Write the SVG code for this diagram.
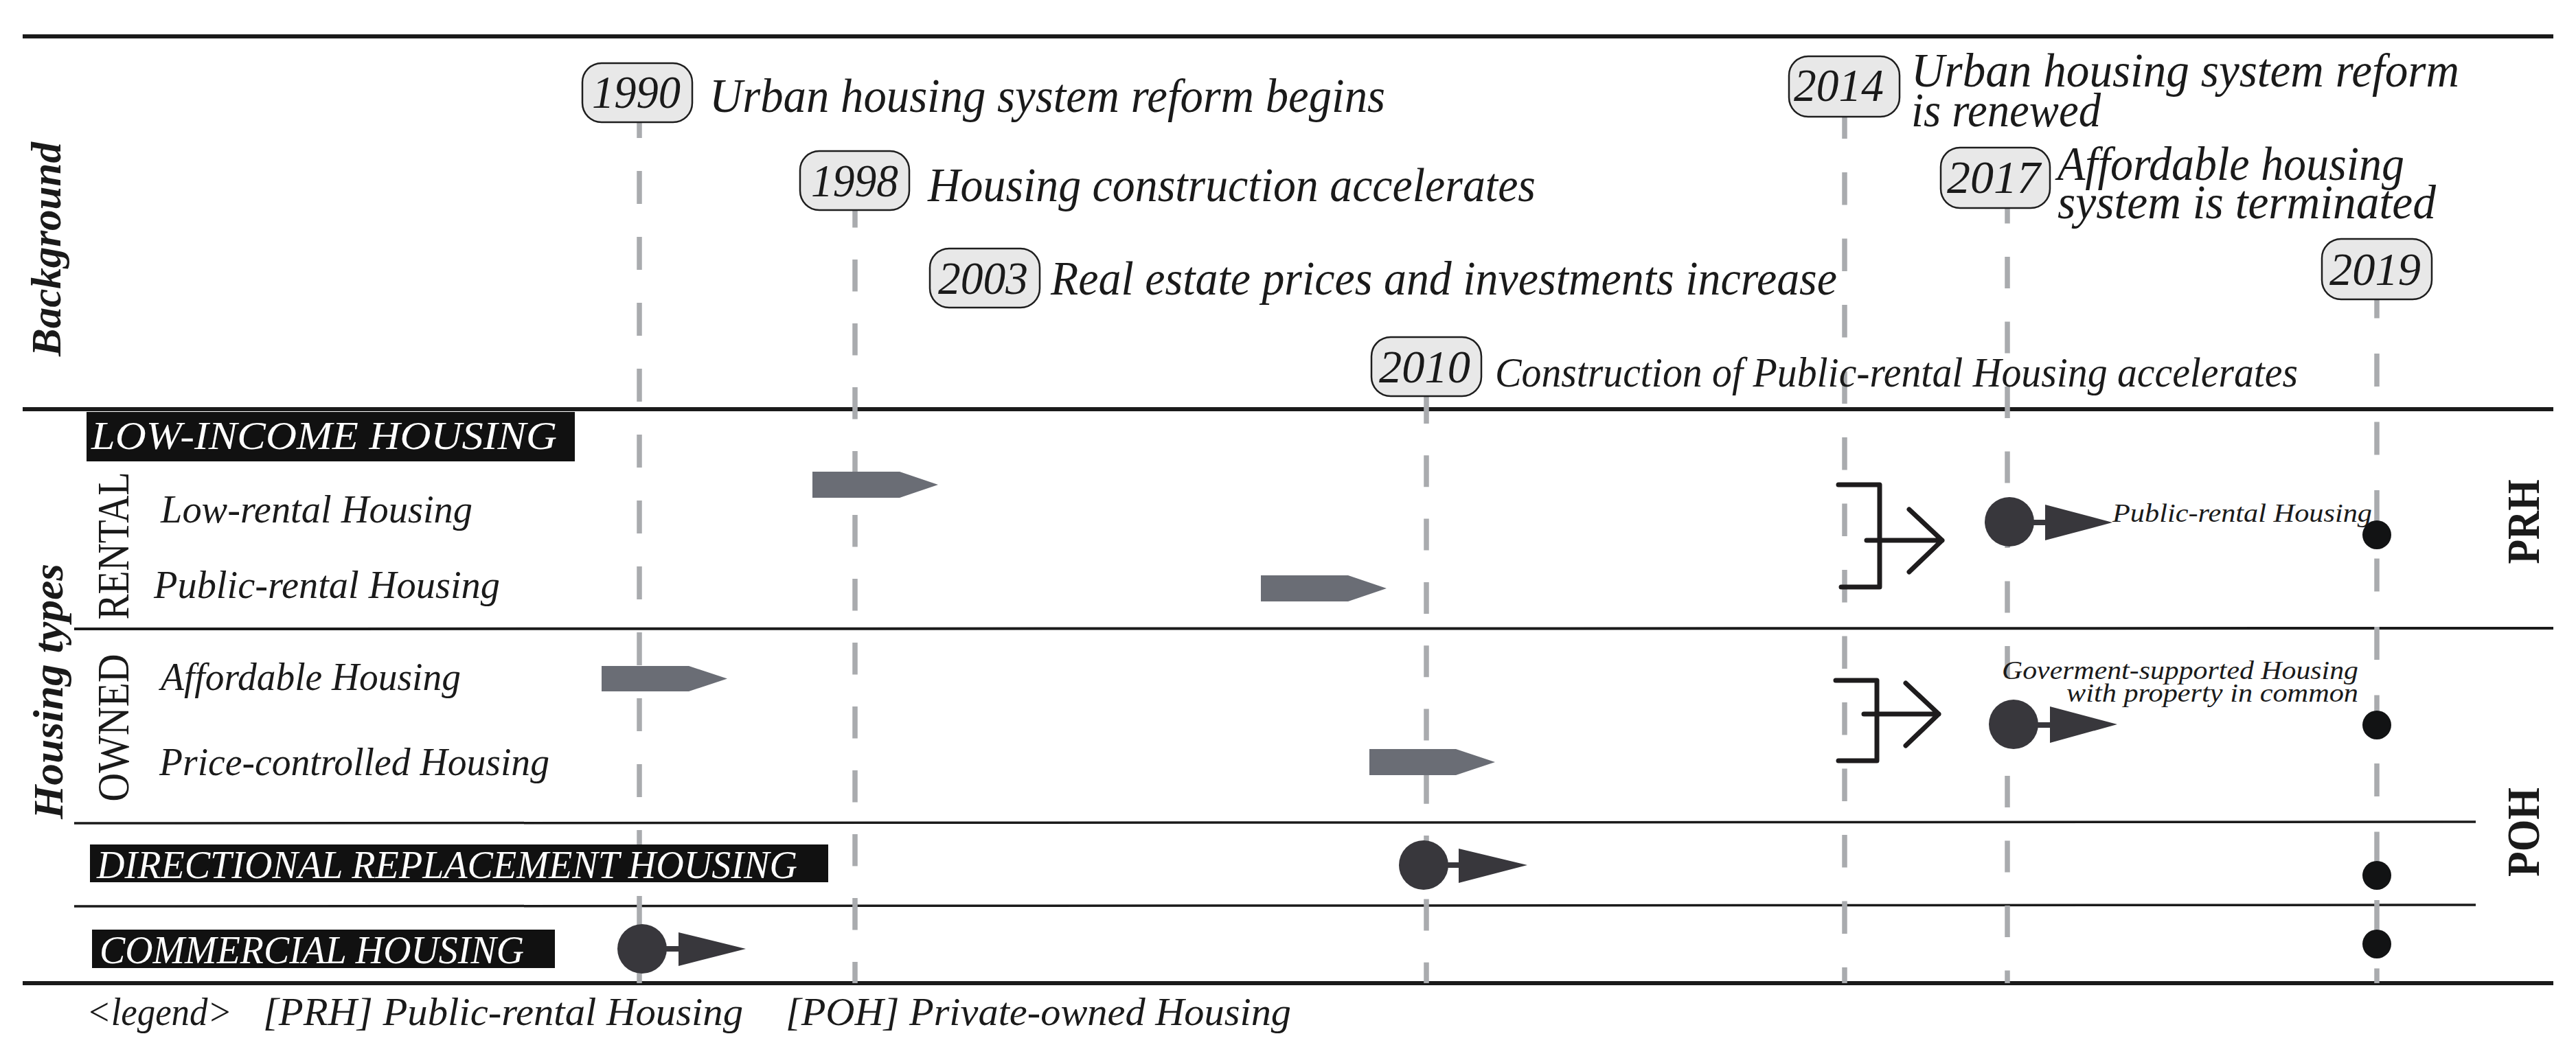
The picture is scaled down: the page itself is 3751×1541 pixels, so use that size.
<svg xmlns="http://www.w3.org/2000/svg" width="3751" height="1541" viewBox="0 0 3751 1541">
<style>
.t{font-family:"Liberation Serif",serif;font-style:italic;fill:#1a1a1a}
.w{fill:#ffffff}
.yr{fill:#e8e8e8;stroke:#1e1e1e;stroke-width:2.5}
.dash{stroke:#a9abae;stroke-width:7.5;fill:none}
.hl{stroke:#1a1a1a;fill:none}
.ga{fill:#6a6d75}
.dk{fill:#38373c}
.dot{fill:#121314}
.br{stroke:#1e1c1d;stroke-width:7;fill:none;stroke-linecap:round;stroke-linejoin:round}
.lab{fill:#111111}
.b{font-family:"Liberation Serif",serif;font-weight:bold;fill:#1a1a1a}
.up{font-family:"Liberation Serif",serif;fill:#1a1a1a}
</style>
<rect x="0" y="0" width="3751" height="1541" fill="#ffffff"/>

<g id="frame" class="hl">
<line x1="33" y1="53" x2="3718" y2="53" stroke-width="6"/>
<line x1="33" y1="596" x2="3718" y2="596" stroke-width="6"/>
<line x1="108" y1="916" x2="3718" y2="915" stroke-width="4"/>
<line x1="108" y1="1199" x2="3605" y2="1197" stroke-width="3.5"/>
<line x1="108" y1="1320" x2="3605" y2="1318" stroke-width="3.5"/>
<line x1="33" y1="1432" x2="3718" y2="1432" stroke-width="6"/>
</g>

<g id="connectors">
<line class="dash" x1="931" y1="153" x2="931" y2="1432" stroke-dasharray="48 48"/>
<line class="dash" x1="1245" y1="285" x2="1245" y2="1432" stroke-dasharray="46.5 46.5"/>
<line class="dash" x1="2077" y1="571" x2="2077" y2="1432" stroke-dasharray="46 46.3"/>
<line class="dash" x1="2686" y1="154.5" x2="2686" y2="1432" stroke-dasharray="47.5 49"/>
<line class="dash" x1="2923" y1="279.5" x2="2923" y2="1432" stroke-dasharray="46 48.5"/>
<line class="dash" x1="3461" y1="415.5" x2="3461" y2="1432" stroke-dasharray="48 51.5"/>
</g>

<g id="section-labels">
<text class="b" font-style="italic" font-size="62" transform="translate(88,363) rotate(-90)" text-anchor="middle" textLength="312" lengthAdjust="spacingAndGlyphs">Background</text>
<text class="b" font-style="italic" font-size="62" transform="translate(91,1007) rotate(-90)" text-anchor="middle" textLength="372" lengthAdjust="spacingAndGlyphs">Housing types</text>
<text class="up" font-size="66" transform="translate(187,795) rotate(-90)" text-anchor="middle" textLength="215" lengthAdjust="spacingAndGlyphs">RENTAL</text>
<text class="up" font-size="66" transform="translate(187,1060) rotate(-90)" text-anchor="middle" textLength="215" lengthAdjust="spacingAndGlyphs">OWNED</text>
<text class="b" font-size="67" transform="translate(3697,760) rotate(-90)" text-anchor="middle" textLength="123" lengthAdjust="spacingAndGlyphs">PRH</text>
<text class="b" font-size="67" transform="translate(3697,1212) rotate(-90)" text-anchor="middle" textLength="130" lengthAdjust="spacingAndGlyphs">POH</text>
</g>

<g id="event-1990">
<rect class="yr" x="848" y="92" width="160" height="86" rx="28"/>
<text class="t" font-size="68" x="862" y="157" textLength="129" lengthAdjust="spacingAndGlyphs">1990</text>
<text class="t" font-size="70" x="1033" y="163" textLength="984" lengthAdjust="spacingAndGlyphs">Urban housing system reform begins</text>
</g>
<g id="event-1998">
<rect class="yr" x="1165" y="220" width="159" height="86" rx="28"/>
<text class="t" font-size="68" x="1181" y="286" textLength="127" lengthAdjust="spacingAndGlyphs">1998</text>
<text class="t" font-size="70" x="1351" y="293" textLength="885" lengthAdjust="spacingAndGlyphs">Housing construction accelerates</text>
</g>
<g id="event-2003">
<rect class="yr" x="1354" y="362" width="160" height="86" rx="28"/>
<text class="t" font-size="68" x="1366" y="428" textLength="131" lengthAdjust="spacingAndGlyphs">2003</text>
<text class="t" font-size="70" x="1530" y="429" textLength="1145" lengthAdjust="spacingAndGlyphs">Real estate prices and investments increase</text>
</g>
<g id="event-2010">
<rect class="yr" x="1997" y="491" width="160" height="86" rx="28"/>
<text class="t" font-size="68" x="2008" y="557" textLength="133" lengthAdjust="spacingAndGlyphs">2010</text>
<text class="t" font-size="61" x="2177" y="563" textLength="1169" lengthAdjust="spacingAndGlyphs">Construction of Public-rental Housing accelerates</text>
</g>
<g id="event-2014">
<rect class="yr" x="2605" y="82" width="161" height="88" rx="28"/>
<text class="t" font-size="68" x="2612" y="147" textLength="131" lengthAdjust="spacingAndGlyphs">2014</text>
<text class="t" font-size="70"><tspan x="2783" y="126" textLength="798" lengthAdjust="spacingAndGlyphs">Urban housing system reform</tspan><tspan x="2783" y="184" textLength="276" lengthAdjust="spacingAndGlyphs">is renewed</tspan></text>
</g>
<g id="event-2017">
<rect class="yr" x="2826" y="215" width="159" height="88" rx="28"/>
<text class="t" font-size="68" x="2835" y="281" textLength="136" lengthAdjust="spacingAndGlyphs">2017</text>
<text class="t" font-size="70"><tspan x="2996" y="262" textLength="505" lengthAdjust="spacingAndGlyphs">Affordable housing</tspan><tspan x="2996" y="318" textLength="551" lengthAdjust="spacingAndGlyphs">system is terminated</tspan></text>
</g>
<g id="event-2019">
<rect class="yr" x="3381" y="348" width="160" height="88" rx="28"/>
<text class="t" font-size="68" x="3392" y="415" textLength="133" lengthAdjust="spacingAndGlyphs">2019</text>
</g>

<g id="low-income">
<rect class="lab" x="126" y="600" width="711" height="72"/>
<text class="t w" font-size="57" x="133" y="654" textLength="678" lengthAdjust="spacingAndGlyphs">LOW-INCOME HOUSING</text>
</g>
<g id="low-rental">
<text class="t" font-size="58" x="234" y="761" textLength="454" lengthAdjust="spacingAndGlyphs">Low-rental Housing</text>
<polygon class="ga" points="1183,687 1310,687 1366,706 1310,725 1183,725"/>
</g>
<g id="public-rental">
<text class="t" font-size="58" x="224" y="871" textLength="504" lengthAdjust="spacingAndGlyphs">Public-rental Housing</text>
<polygon class="ga" points="1836,838 1963,838 2019,857 1963,876 1836,876"/>
</g>
<g id="affordable">
<text class="t" font-size="58" x="234" y="1005" textLength="437" lengthAdjust="spacingAndGlyphs">Affordable Housing</text>
<polygon class="ga" points="876,970 1003,970 1059,988.5 1003,1007 876,1007"/>
</g>
<g id="price-controlled">
<text class="t" font-size="58" x="232" y="1129" textLength="568" lengthAdjust="spacingAndGlyphs">Price-controlled Housing</text>
<polygon class="ga" points="1994,1091 2120,1091 2177,1110 2120,1129 1994,1129"/>
</g>
<g id="directional">
<rect class="lab" x="131" y="1230" width="1075" height="55"/>
<text class="t w" font-size="57" x="141" y="1279" textLength="1020" lengthAdjust="spacingAndGlyphs">DIRECTIONAL REPLACEMENT HOUSING</text>
<circle class="dk" cx="2073" cy="1260" r="36"/>
<rect class="dk" x="2107" y="1256" width="19" height="8"/>
<polygon class="dk" points="2124,1236 2224,1260 2124,1286"/>
</g>
<g id="commercial">
<rect class="lab" x="134" y="1354" width="674" height="56"/>
<text class="t w" font-size="57" x="145" y="1403" textLength="618" lengthAdjust="spacingAndGlyphs">COMMERCIAL HOUSING</text>
<circle class="dk" cx="935" cy="1382" r="36"/>
<rect class="dk" x="969" y="1378" width="20" height="8"/>
<polygon class="dk" points="988,1358 1086,1382 988,1407"/>
</g>

<g id="merge-rental">
<path class="br" d="M2677,706 H2737 V855 H2681"/>
<path class="br" d="M2718,787 H2828 M2780,742 L2828,787 L2780,833"/>
</g>
<g id="merge-owned">
<path class="br" d="M2673,991 H2733 V1108 H2677"/>
<path class="br" d="M2714,1040 H2823 M2775,995 L2823,1040 L2775,1086"/>
</g>

<g id="prh-new">
<circle class="dk" cx="2926" cy="760" r="36"/>
<rect class="dk" x="2960" y="757" width="20" height="8"/>
<polygon class="dk" points="2978,735 3076,761 2978,787"/>
<text class="t" font-size="38" x="3076" y="760" textLength="378" lengthAdjust="spacingAndGlyphs">Public-rental Housing</text>
</g>
<g id="gov-supported">
<circle class="dk" cx="2932" cy="1055" r="36"/>
<rect class="dk" x="2966" y="1052" width="21" height="8"/>
<polygon class="dk" points="2985,1029 3083,1055 2985,1082"/>
<text class="t" font-size="38"><tspan x="2915" y="989" textLength="519" lengthAdjust="spacingAndGlyphs">Goverment-supported Housing</tspan><tspan x="3009" y="1022" textLength="425" lengthAdjust="spacingAndGlyphs">with property in common</tspan></text>
</g>

<g id="dots-2019">
<circle class="dot" cx="3461" cy="779" r="21"/>
<circle class="dot" cx="3461" cy="1056" r="21"/>
<circle class="dot" cx="3461" cy="1275" r="21"/>
<circle class="dot" cx="3461" cy="1375" r="21"/>
</g>

<g id="legend">
<text class="t" font-size="57" x="126" y="1493" textLength="212" lengthAdjust="spacingAndGlyphs">&lt;legend&gt;</text>
<text class="t" font-size="57" x="383" y="1493" textLength="699" lengthAdjust="spacingAndGlyphs">[PRH] Public-rental Housing</text>
<text class="t" font-size="57" x="1144" y="1493" textLength="736" lengthAdjust="spacingAndGlyphs">[POH] Private-owned Housing</text>
</g>
</svg>
